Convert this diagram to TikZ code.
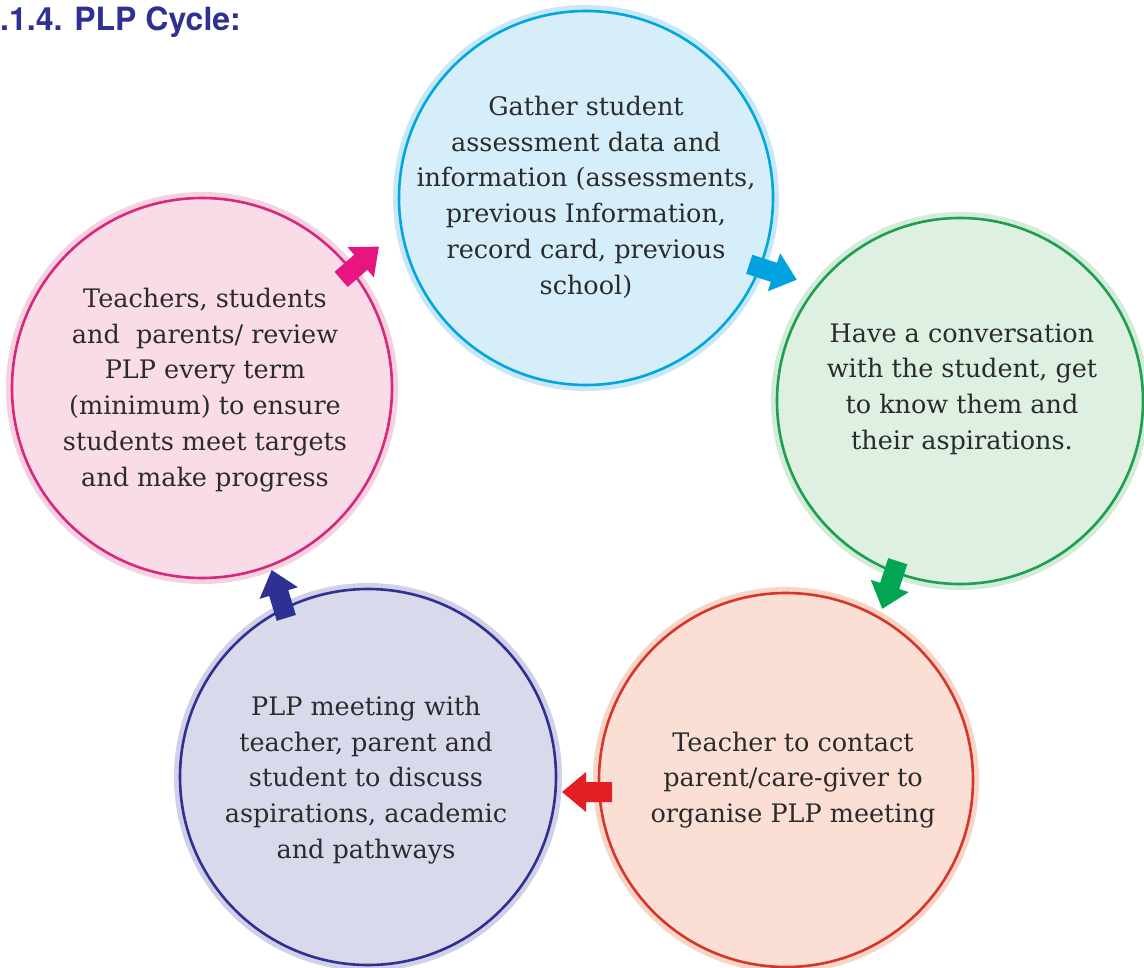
\documentclass[tikz,border=0pt]{standalone}
\usepackage{fontspec}
\setmainfont{DejaVu Serif}
\newfontfamily\titlefont{TeX Gyre Heros}
\definecolor{bfill}{HTML}{D6EEF9}\definecolor{bdraw}{HTML}{00A7DE}\definecolor{bglow}{HTML}{C8E8F7}
\definecolor{gfill}{HTML}{DDF0E2}\definecolor{gdraw}{HTML}{1E9E4F}\definecolor{gglow}{HTML}{D3EBDA}
\definecolor{rfill}{HTML}{FBDFD5}\definecolor{rdraw}{HTML}{D8352A}\definecolor{rglow}{HTML}{F9D5C8}
\definecolor{pfill}{HTML}{D9D9EC}\definecolor{pdraw}{HTML}{2E3192}\definecolor{pglow}{HTML}{D0D0E8}
\definecolor{kfill}{HTML}{F9DCE8}\definecolor{kdraw}{HTML}{D6287F}\definecolor{kglow}{HTML}{F6D2E1}
\definecolor{barrow}{HTML}{00A3DF}\definecolor{garrow}{HTML}{00A651}\definecolor{rarrow}{HTML}{E31E24}
\definecolor{parrow}{HTML}{2E3192}\definecolor{karrow}{HTML}{E6157F}
\definecolor{titleblue}{HTML}{2E3192}\definecolor{txt}{HTML}{2B2B2B}
\newcommand\blockarr[4]{%
  \fill[#4, shift={(#1,#2)}, rotate=#3] (-25,-10) -- (1,-10) -- (1,-20) -- (25,0) -- (1,20) -- (1,10) -- (-25,10) -- cycle;}
\begin{document}
\begin{tikzpicture}[x=1pt,y=-1pt,
  bubble/.style={circle, inner sep=0pt, line width=2.6pt},
  btext/.style={align=center, text=txt, font=\fontsize{25.5}{35.8}\selectfont, inner sep=0pt},
  title/.style={anchor=west, text=titleblue, font=\titlefont\bfseries\fontsize{32}{34}\selectfont, inner sep=0pt}]
\useasboundingbox (0,0) rectangle (1144,968);
\fill[white] (0,0) rectangle (1144,968);
\node[title] (ttl) at (0,22) {.1.4. PLP Cycle:};
% circles
\node[bubble, fill=bfill, draw=bdraw, preaction={draw=bglow, line width=12pt}, minimum size=374pt] (b) at (586,198) {};
\node[bubble, fill=gfill, draw=gdraw, preaction={draw=gglow, line width=12pt}, minimum size=366pt] (g) at (960,401) {};
\node[bubble, fill=rfill, draw=rdraw, preaction={draw=rglow, line width=12pt}, minimum size=374pt] (r) at (786,780) {};
\node[bubble, fill=pfill, draw=pdraw, preaction={draw=pglow, line width=12pt}, minimum size=376pt] (p) at (368,777) {};
\node[bubble, fill=kfill, draw=kdraw, preaction={draw=kglow, line width=12pt}, minimum size=380pt] (k) at (202,388) {};
% texts
\node[btext] (bt) at (586,197) {Gather student\\assessment data and\\information (assessments,\\previous Information,\\record card, previous\\school)};
\node[btext] (gt) at (962,389) {Have a conversation\\with the student, get\\to know them and\\their aspirations.};
\node[btext] (rt) at (793,780) {Teacher to contact\\parent/care-giver to\\organise PLP meeting};
\node[btext] (pt) at (366,780) {PLP meeting with\\teacher, parent and\\student to discuss\\aspirations, academic\\and pathways};
\node[btext] (kt) at (205,390) {Teachers, students\\and\ \ parents/ review\\PLP every term\\(minimum) to ensure\\students meet targets\\and make progress};
% block arrows between the circles (b -> g -> r -> p -> k -> b)
\blockarr{773}{272}{-18}{barrow}
\blockarr{890}{585}{-108}{garrow}
\blockarr{587}{792}{180}{rarrow}
\blockarr{279}{594}{107}{parrow}
\blockarr{360}{263}{41}{karrow}
\end{tikzpicture}
\end{document}
